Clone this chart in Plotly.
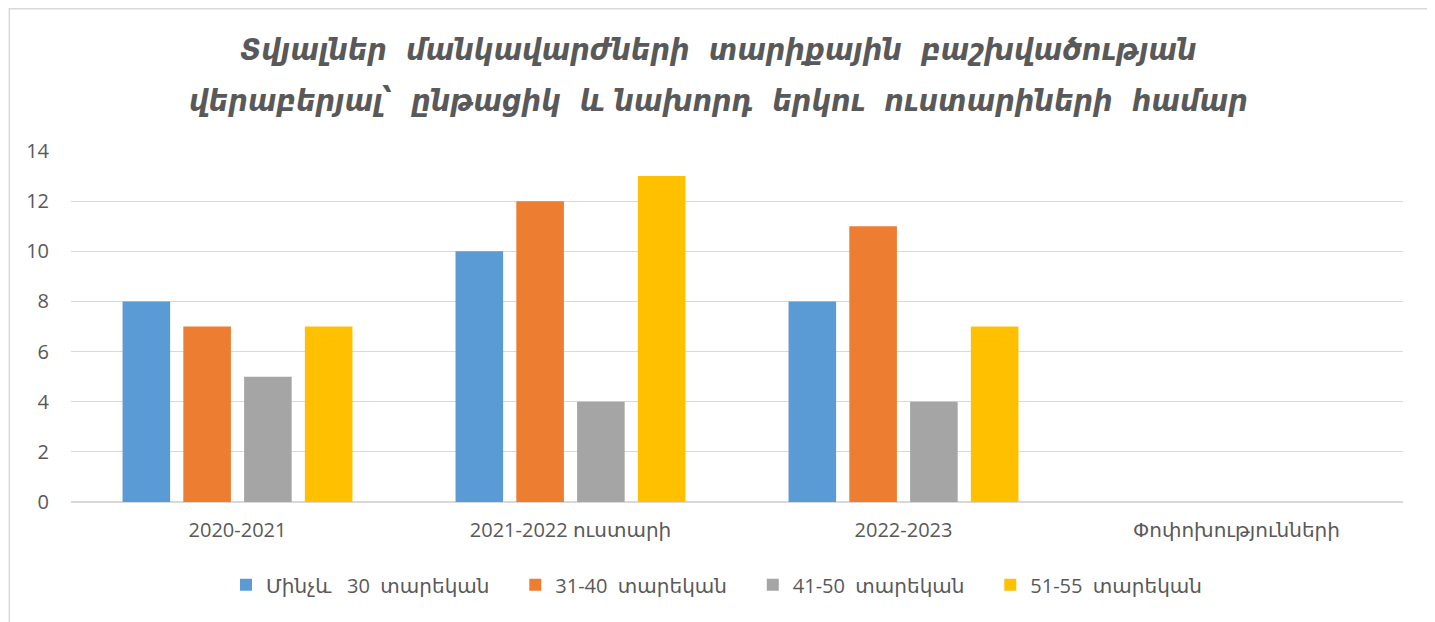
import plotly.graph_objects as go

categories = ["2020-2021", "2021-2022 ուստարի", "2022-2023", "Փոփոխությունների"]
series_names = ["Մինչև\u00a0\u00a0\u00a030\u00a0\u00a0տարեկան", "31-40\u00a0\u00a0տարեկան",
                "41-50\u00a0\u00a0տարեկան", "51-55\u00a0\u00a0տարեկան"]
under30 = [8, 10, 8, None]
age31_40 = [7, 12, 11, None]
age41_50 = [5, 4, 4, None]
age51_55 = [7, 13, 7, None]
colors = ["#5B9BD5", "#ED7D31", "#A5A5A5", "#FFC000"]
y_ticks = [0, 2, 4, 6, 8, 10, 12, 14]
title_line1 = "Տվյալներ\u00a0 մանկավարժների\u00a0 տարիքային\u00a0 բաշխվածության"
title_line2 = "վերաբերյալ՝\u00a0 ընթացիկ\u00a0 և\u00a0նախորդ\u00a0 երկու\u00a0 ուստարիների\u00a0 համար"

TITLE_FONT = "DejaVu Sans Condensed, DejaVu Sans, sans-serif"
FONT = "Open Sans, DejaVu Sans, sans-serif"
GREY = "#595959"
PAD = "\u00a0" * 4

fig = go.Figure()
for name, vals, c in zip(series_names, [under30, age31_40, age41_50, age51_55], colors):
    fig.add_trace(go.Bar(x=categories, y=vals, name=name + PAD, marker=dict(color=c, line=dict(width=0))))

fig.update_layout(
    width=1435, height=622,
    margin=dict(l=62.5, r=40, t=143, b=128),
    paper_bgcolor="white", plot_bgcolor="white",
    barmode="group", bargap=0.27, bargroupgap=0.217,
    font=dict(family=FONT, color=GREY, size=20),
    showlegend=True,
    legend=dict(orientation="h", x=0.4925, xanchor="center", y=-0.236, yanchor="middle",
                font=dict(size=20, color=GREY), itemwidth=30, traceorder="normal"),
    xaxis=dict(showgrid=False, showline=False, ticks="", tickfont=dict(size=20, color=GREY),
               ticklabelstandoff=14),
    yaxis=dict(range=[0, 14], tickvals=y_ticks, showgrid=True, gridcolor="#D9D9D9", gridwidth=1,
               zeroline=True, zerolinecolor="#D9D9D9", zerolinewidth=1.5, showline=False, ticks="",
               tickfont=dict(size=20, color=GREY), ticklabelstandoff=21),
    annotations=[
        dict(text=title_line1, xref="paper", yref="paper", x=0.486, y=1.288, xanchor="center", yanchor="middle",
             showarrow=False, font=dict(size=30.5, color=GREY, family=TITLE_FONT, weight="bold", style="italic")),
        dict(text=title_line2, xref="paper", yref="paper", x=0.486, y=1.145, xanchor="center", yanchor="middle",
             showarrow=False, font=dict(size=30.5, color=GREY, family=TITLE_FONT, weight="bold", style="italic")),
    ],
    shapes=[dict(type="rect", xref="paper", yref="paper", x0=-0.0463, x1=1.0218, y0=-0.45, y1=1.405,
                 line=dict(color="#D9D9D9", width=1.5), fillcolor="rgba(0,0,0,0)", layer="below")],
)

fig.write_html("out.html")
